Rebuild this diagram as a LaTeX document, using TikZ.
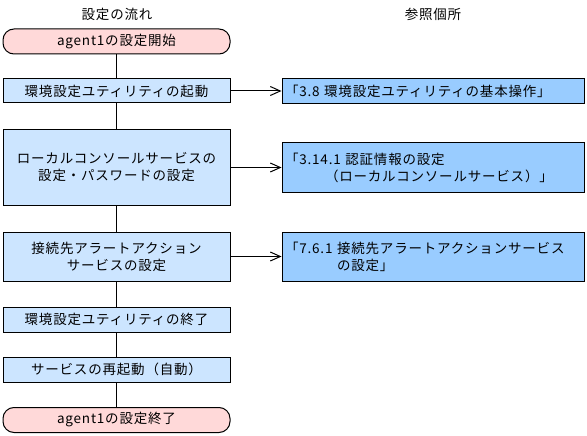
\documentclass[tikz,border=0pt]{standalone}
\usepackage{fontspec}
\setmainfont{Noto Sans CJK JP}[LetterSpace=6]
\usetikzlibrary{arrows.meta}
\definecolor{termpink}{RGB}{255,217,217}
\definecolor{steplight}{RGB}{204,229,255}
\definecolor{refblue}{RGB}{153,204,255}
\begin{document}
\begin{tikzpicture}[x=1pt, y=-1pt, font=\fontsize{13.5}{17}\selectfont]
        \tikzset{
            term/.style={draw, line width=1pt, fill=termpink, rounded corners=11pt, minimum width=227pt, minimum height=25pt, inner sep=0pt},
            stepbox/.style={draw, line width=1pt, fill=steplight, minimum width=227pt, inner sep=0pt, align=center},
            refbox/.style={draw, line width=1pt, fill=refblue, minimum width=302pt, inner sep=3pt, align=left, text width=296pt},
            flow/.style={line width=1pt},
            refer/.style={line width=1pt, -{Straight Barb[length=10pt, width=9pt]}}
        }
        \useasboundingbox (0,0) rectangle (587,436);

        % Nodes
        \node (head1) at (117,14) {設定の流れ};
        \node (head2) at (433,14) {参照個所};
        \node[term] (start) at (116.5,41.5) {agent1の設定開始};
        \node[stepbox, minimum height=24pt] (util) at (116.5,91) {環境設定ユティリティの起動};
        \node[stepbox, minimum height=76pt] (local) at (116.5,167.5) {ローカルコンソールサービスの\\設定・パスワードの設定};
        \node[stepbox, minimum height=49pt] (alert) at (116.5,256.5) {接続先アラートアクション\\サービスの設定};
        \node[stepbox, minimum height=25pt] (close) at (116.5,319.5) {環境設定ユティリティの終了};
        \node[stepbox, minimum height=25pt] (restart) at (116.5,369.5) {サービスの再起動（自動）};
        \node[term] (finish) at (116.5,420) {agent1の設定終了};
        \node[refbox, minimum height=25pt] (ref1) at (433,91) {「3.8 環境設定ユティリティの基本操作」};
        \node[refbox, minimum height=50pt] (ref2) at (433,167.5) {「3.14.1 認証情報の設定\\\hspace*{40pt}（ローカルコンソールサービス）」};
        \node[refbox, minimum height=49pt] (ref3) at (433,256.5) {「7.6.1 接続先アラートアクションサービス\\\hspace*{52pt}の設定」};

        % Edges
        \draw[flow] (start) -- (util);
        \draw[flow] (util) -- (local);
        \draw[flow] (local) -- (alert);
        \draw[flow] (alert) -- (close);
        \draw[flow] (close) -- (restart);
        \draw[flow] (restart) -- (finish);
        \draw[refer] (util) -- (ref1);
        \draw[refer] (local) -- (ref2);
        \draw[refer] (alert) -- (ref3);
    \end{tikzpicture}
\end{document}
